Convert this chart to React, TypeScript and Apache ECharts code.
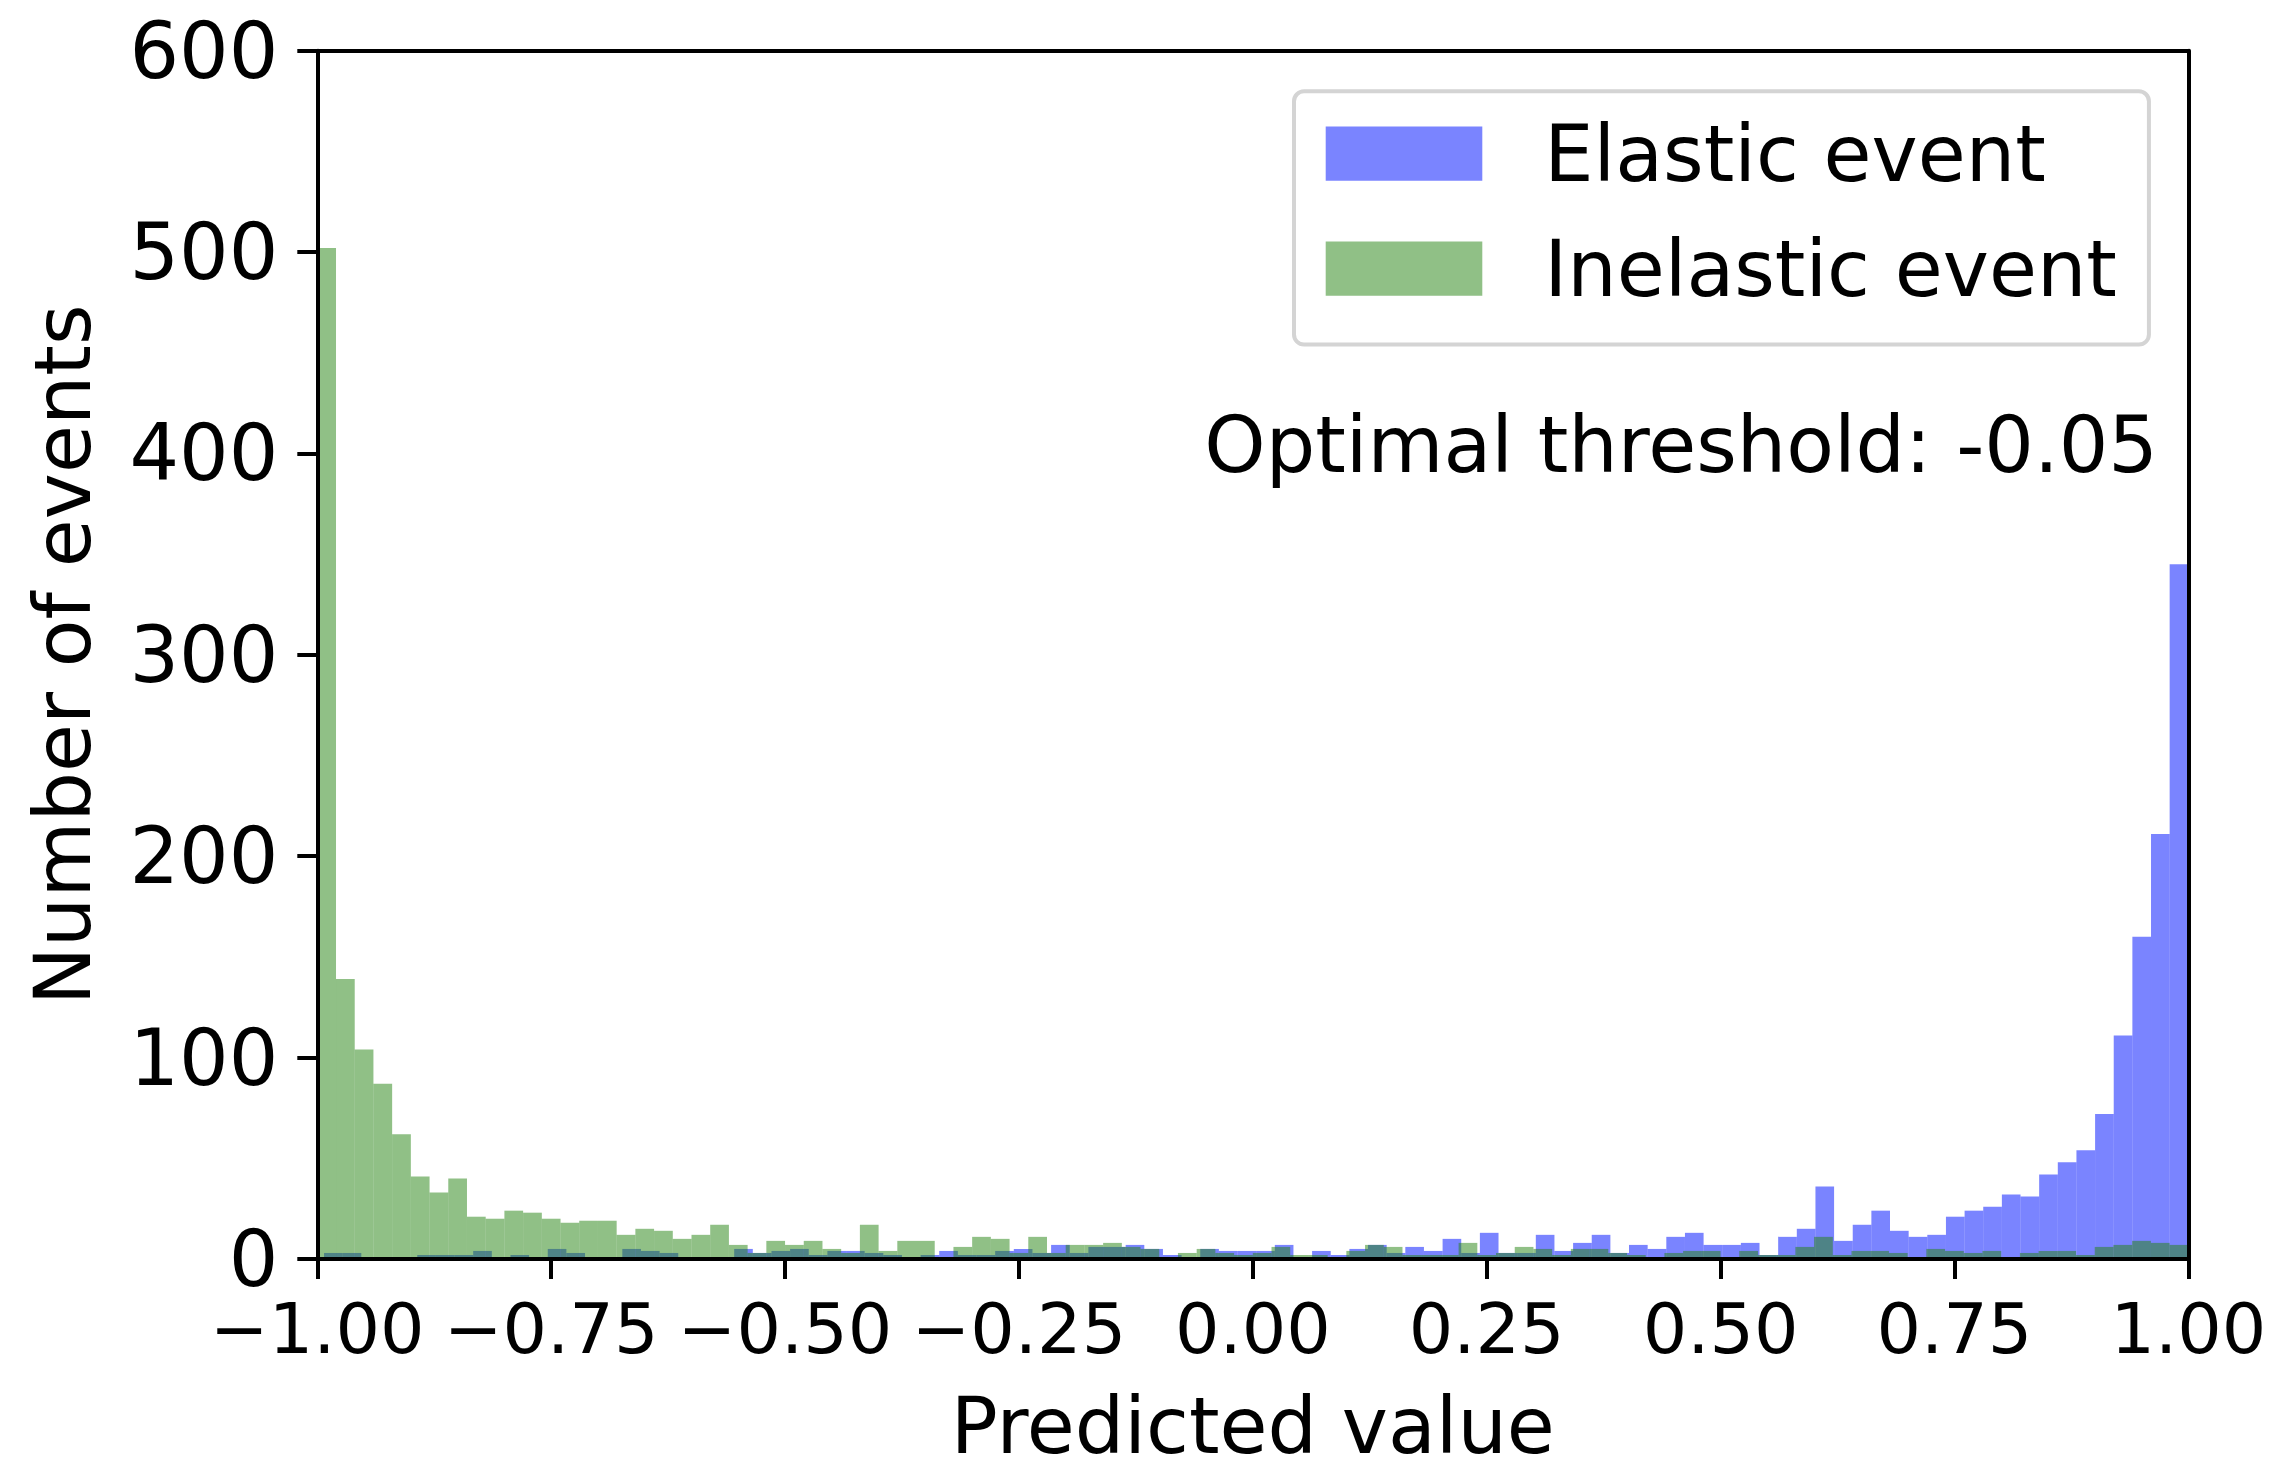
import React, { useEffect, useRef } from "react";
import * as echarts from "echarts";

// Histogram bin ranges (100 bins each, as matplotlib computed them from each sample's min/max)
const BIN_COUNT = 100;
const elasticRange = [-0.9928, 1.0];
const inelasticRange = [-1.0, 1.0];

const seriesNames = ["Elastic event", "Inelastic event"];

// Counts per bin
const elasticCounts = [
  3, 3, 0, 0, 1, 2, 2, 2, 4, 1,
  2, 1, 5, 3, 1, 1, 5, 4, 3, 1,
  1, 0, 5, 3, 4, 5, 2, 4, 4, 3,
  2, 1, 2, 4, 2, 2, 4, 5, 3, 7,
  3, 6, 6, 7, 5, 2, 1, 5, 4, 4,
  4, 7, 1, 4, 2, 5, 7, 3, 6, 4,
  10, 3, 13, 3, 3, 12, 4, 8, 12, 3,
  7, 5, 11, 13, 7, 7, 8, 2, 11, 15,
  36, 9, 17, 24, 14, 11, 12, 21, 24, 26,
  32, 31, 42, 48, 54, 72, 111, 160, 211, 345,
];

const inelasticCounts = [
  502, 139, 104, 87, 62, 41, 33, 40, 21, 20,
  24, 23, 20, 18, 19, 19, 12, 15, 14, 10,
  12, 17, 7, 3, 9, 7, 9, 5, 3, 17,
  4, 9, 9, 1, 6, 11, 10, 3, 11, 3,
  7, 7, 8, 6, 5, 1, 3, 5, 3, 2,
  3, 6, 2, 2, 0, 4, 7, 6, 2, 2,
  2, 8, 2, 3, 6, 5, 2, 5, 5, 3,
  2, 1, 3, 4, 4, 1, 4, 2, 2, 6,
  11, 2, 4, 4, 3, 1, 5, 4, 3, 4,
  1, 3, 4, 4, 2, 6, 7, 9, 8, 7,
];

const annotationText = "Optimal threshold: -0.05";
const xAxisTitle = "Predicted value";
const yAxisTitle = "Number of events";

const FONT = "DejaVu Sans";
const ELASTIC_COLOR = "rgba(0, 20, 255, 0.52)";
const INELASTIC_COLOR = "rgba(33, 129, 13, 0.5)";

function toBins(range: number[], counts: number[]) {
  const w = (range[1] - range[0]) / BIN_COUNT;
  return counts.map((c, i) => [range[0] + i * w, range[0] + (i + 1) * w, c]);
}

function histSeries(name: string, data: number[][], color: string) {
  return {
    type: "custom",
    name,
    xAxisIndex: 0,
    yAxisIndex: 0,
    clip: true,
    itemStyle: { color },
    encode: { x: [0, 1], y: 2 },
    data,
    renderItem: (params: any, api: any) => {
      const x0 = api.value(0);
      const x1 = api.value(1);
      const c = api.value(2);
      const p0 = api.coord([x0, 0]);
      const p1 = api.coord([x1, c]);
      return {
        type: "rect",
        shape: { x: p0[0], y: p1[1], width: p1[0] - p0[0], height: p0[1] - p1[1] },
        style: { fill: color },
      };
    },
  };
}

export default function App() {
  const ref = useRef<HTMLDivElement>(null);

  useEffect(() => {
    if (!ref.current) return;
    const chart = echarts.init(ref.current, undefined, { renderer: "svg" });
    const axisLine = { show: true, onZero: false, lineStyle: { color: "#000", width: 4 } };
    chart.setOption({
      animation: false,
      backgroundColor: "#ffffff",
      textStyle: { fontFamily: FONT },
      grid: { left: 317.3, right: 2280 - 2188.3, top: 50.7, bottom: 1470 - 1267.5, containLabel: false },
      xAxis: [
        {
          type: "value",
          min: -1,
          max: 1,
          interval: 0.25,
          position: "bottom",
          z: 10,
          axisLine,
          axisTick: { show: true, length: 20, lineStyle: { color: "#000", width: 4 } },
          splitLine: { show: false },
          axisLabel: {
            fontSize: 70,
            lineHeight: 70,
            fontFamily: FONT,
            color: "#000",
            margin: 35,
            formatter: (v: number) => (v < 0 ? "\u2212" : "") + Math.abs(v).toFixed(2),
          },
          name: xAxisTitle,
          nameLocation: "middle",
          nameGap: 128,
          nameTextStyle: { fontSize: 78, fontFamily: FONT, color: "#000" },
        },
        {
          type: "value",
          min: -1,
          max: 1,
          position: "top",
          z: 10,
          axisLine,
          axisTick: { show: false },
          axisLabel: { show: false },
          splitLine: { show: false },
        },
      ],
      yAxis: [
        {
          type: "value",
          min: 0,
          max: 600,
          interval: 100,
          position: "left",
          z: 10,
          axisLine,
          axisTick: { show: true, length: 20, lineStyle: { color: "#000", width: 4 } },
          splitLine: { show: false },
          axisLabel: { fontSize: 78, lineHeight: 64, fontFamily: FONT, color: "#000", margin: 39 },
          name: yAxisTitle,
          nameLocation: "middle",
          nameGap: 215,
          nameTextStyle: { fontSize: 78, fontFamily: FONT, color: "#000" },
        },
        {
          type: "value",
          min: 0,
          max: 600,
          position: "right",
          z: 10,
          axisLine,
          axisTick: { show: false },
          axisLabel: { show: false },
          splitLine: { show: false },
        },
      ],
      legend: {
        data: seriesNames,
        orient: "vertical",
        left: 1294,
        top: 91.3,
        icon: "rect",
        itemWidth: 156.6,
        itemHeight: 54.3,
        itemGap: 37,
        selectedMode: false,
        padding: [23.4, 32, 36.9, 31.7],
        backgroundColor: "#ffffff",
        borderColor: "#d4d4d4",
        borderWidth: 4,
        borderRadius: 10,
        textStyle: {
          fontSize: 78,
          lineHeight: 78,
          fontFamily: FONT,
          color: "#000",
          padding: [0, 0, 0, 57],
        },
      },
      graphic: [
        {
          type: "text",
          x: 2158,
          y: 445,
          z: 20,
          style: {
            text: annotationText,
            fontSize: 78,
            fontFamily: FONT,
            fill: "#000",
            align: "right",
            verticalAlign: "middle",
          },
        },
      ],
      series: [
        histSeries(seriesNames[0], toBins(elasticRange, elasticCounts), ELASTIC_COLOR),
        histSeries(seriesNames[1], toBins(inelasticRange, inelasticCounts), INELASTIC_COLOR),
      ],
    });
    return () => chart.dispose();
  }, []);

  return (
    <div
      ref={ref}
      style={{ position: "absolute", left: 0, top: 0, width: 2280, height: 1470 }}
    />
  );
}
